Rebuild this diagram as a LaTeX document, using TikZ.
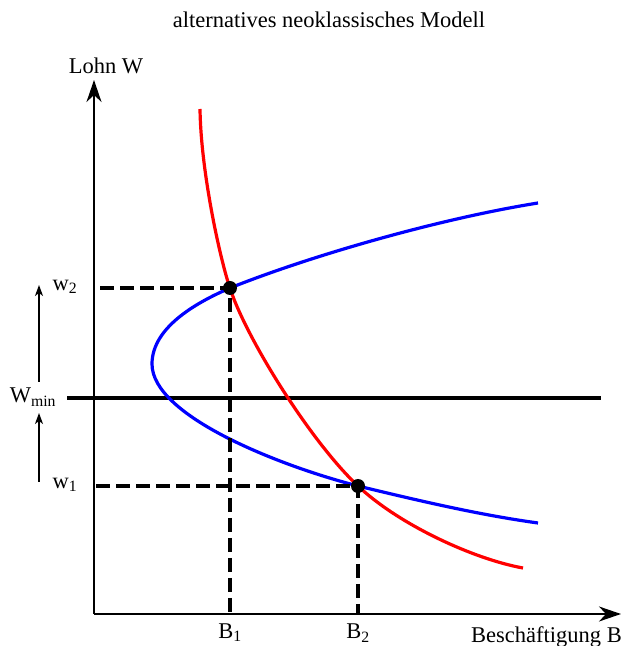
\documentclass[tikz,border=0pt]{standalone}
\usepackage{fontspec}
\setmainfont{Liberation Serif}
\usetikzlibrary{arrows.meta}

\begin{document}
\begin{tikzpicture}[x=1pt, y=1pt, >=Stealth,
    axis/.style={line width=2pt, -{Stealth[length=22pt, width=15pt, inset=7pt]}},
    helper/.style={line width=3.2pt, dash pattern=on 14pt off 6pt},
    curve/.style={line width=3.2pt},
    lbl/.style={font=\fontsize{22.5}{27}\selectfont, inner sep=0pt},
    wagearrow/.style={line width=1.4pt, -{Stealth[length=11pt, width=8pt, inset=3pt]}}]
    \useasboundingbox (0,0) rectangle (624,646);

    % --- Axes ---
    \coordinate (O) at (94,32);
    \coordinate (Ytop) at (94,566);
    \coordinate (Xend) at (621,32);
    \draw[axis] (O) -- (Ytop);
    \draw[axis] (O) -- (Xend);
    \node[lbl] (title) at (329,626) {alternatives neoklassisches Modell};
    \node[lbl] (ylab) at (106,580) {Lohn W};
    \node[lbl, anchor=east] (xlab) at (622,9) {Beschäftigung B};

    % --- Key Coordinates ---
    \coordinate (P1) at (230,358);
    \coordinate (P2) at (358,160);
    \coordinate (V) at (152,282);

    % --- Minimum wage line ---
    \coordinate (Ml) at (67,248);
    \coordinate (Mr) at (601,248);
    \draw[line width=3.6pt] (Ml) -- (Mr);
    \node[lbl] (wmin) at (33,249) {W\textsubscript{min}};

    % --- Blue curve (labour supply) ---
    \draw[curve, blue] (538,443) .. controls (438,427) and (310,390) .. (P1)
        .. controls (200,345) and (152,320) .. (V)
        .. controls (152,230) and (280,180) .. (P2)
        .. controls (420,145) and (480,131) .. (538,123);

    % --- Red curve (labour demand) ---
    \draw[curve, red] (200,537) .. controls (201,470) and (222,380) .. (P1)
        .. controls (245,310) and (310,205) .. (P2)
        .. controls (398,122) and (473,87) .. (523,78);

    % --- Dashed helper lines ---
    \coordinate (H1) at (100,358);
    \coordinate (H2) at (96,160);
    \coordinate (B1) at (230,32);
    \coordinate (B2) at (358,32);
    \draw[helper] (H1) -- (P1) -- (B1);
    \draw[helper] (H2) -- (P2) -- (B2);

    % --- Equilibrium points ---
    \fill (P1) circle (7pt);
    \fill (P2) circle (7pt);

    % --- Labels ---
    \node[lbl] (w2) at (65,359) {w\textsubscript{2}};
    \node[lbl] (w1) at (65,161) {w\textsubscript{1}};
    \node[lbl] (b1) at (230,13) {B\textsubscript{1}};
    \node[lbl] (b2) at (358,13) {B\textsubscript{2}};

    % --- Wage shift arrows ---
    \coordinate (A1s) at (39,264);
    \coordinate (A1e) at (39,361);
    \coordinate (A2s) at (39,164);
    \coordinate (A2e) at (39,233);
    \draw[wagearrow] (A1s) -- (A1e);
    \draw[wagearrow] (A2s) -- (A2e);
\end{tikzpicture}
\end{document}
